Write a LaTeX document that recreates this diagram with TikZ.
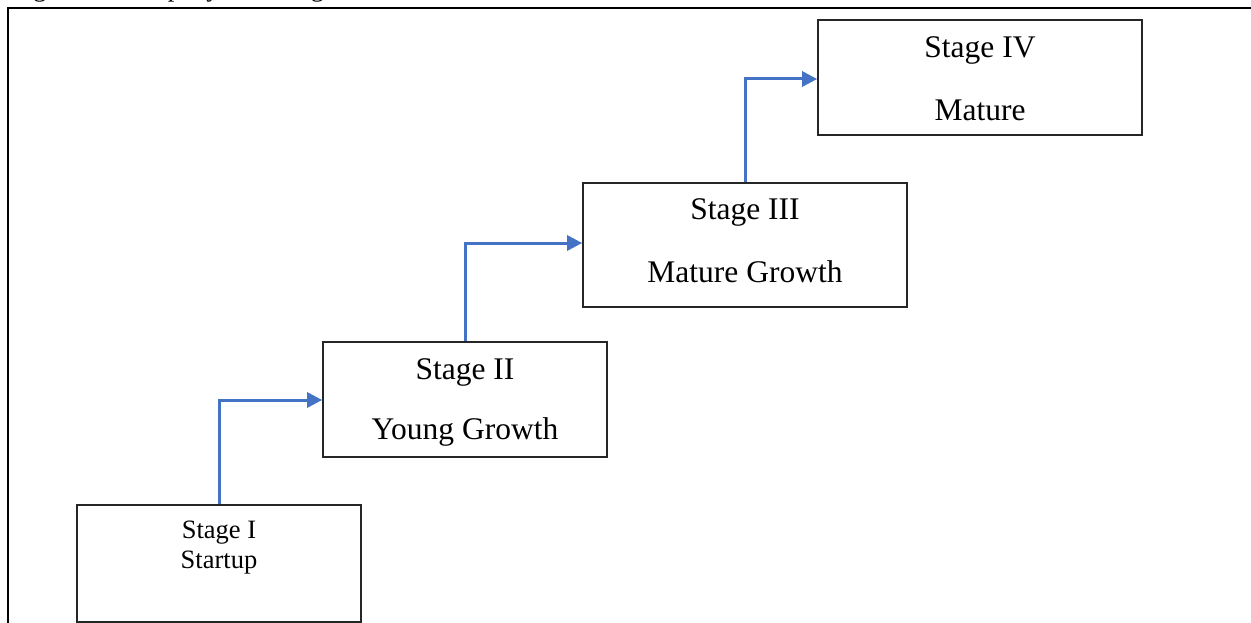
\documentclass[tikz,border=0pt]{standalone}
\usepackage{fontspec}
\setmainfont{Liberation Serif}
\usetikzlibrary{arrows.meta}
\definecolor{arrowblue}{RGB}{68,114,196}
\tikzset{
  stagebox/.style={draw=black!85, line width=1.7pt, fill=white, rectangle, inner sep=0pt},
  bigtxt/.style={font=\fontsize{31.5}{34}\selectfont, inner sep=0pt, anchor=center},
  smalltxt/.style={font=\fontsize{26.5}{29}\selectfont, inner sep=0pt, anchor=center},
  flow/.style={draw=arrowblue, line width=3pt, -{Triangle[length=15pt,width=15pt]}},
  frameline/.style={draw=black, line width=2.2pt}
}
\begin{document}
\begin{tikzpicture}[x=1pt,y=-1pt]
\useasboundingbox (0,0) rectangle (1251,623);
% clipped caption (only descenders visible)
\begin{scope}
\clip (0,0) rectangle (1251,7);
\node[smalltxt, anchor=base west] (caption) at (11,-3) {Figure 1: Company Life Stages};
\end{scope}
% frame
\draw[frameline] (8,623) -- (8,8) -- (1251,8);
% boxes
\node[stagebox, minimum width=284pt, minimum height=117pt] (s1) at (219,563.5) {};
\node[stagebox, minimum width=284pt, minimum height=115pt] (s2) at (465,399.5) {};
\node[stagebox, minimum width=324pt, minimum height=124pt] (s3) at (745,245) {};
\node[stagebox, minimum width=324pt, minimum height=115pt] (s4) at (980,77.5) {};
% texts
\node[smalltxt] (t1a) at (219,533) {Stage I};
\node[smalltxt] (t1b) at (219,563) {Startup};
\node[bigtxt] (t2a) at (465,372) {Stage II};
\node[bigtxt] (t2b) at (465,432) {Young Growth};
\node[bigtxt] (t3a) at (745,212) {Stage III};
\node[bigtxt] (t3b) at (745,272) {Mature Growth};
\node[bigtxt] (t4a) at (980,50) {Stage IV};
\node[bigtxt] (t4b) at (980,110) {Mature};
% connectors
\coordinate (c1) at (219,400);
\coordinate (c2) at (465,243);
\coordinate (c3) at (745,79);
\draw[flow] (s1.north) -- (c1) -- (s2.west |- c1);
\draw[flow] (s2.north) -- (c2) -- (s3.west |- c2);
\draw[flow] (s3.north) -- (c3) -- (s4.west |- c3);
\end{tikzpicture}
\end{document}
